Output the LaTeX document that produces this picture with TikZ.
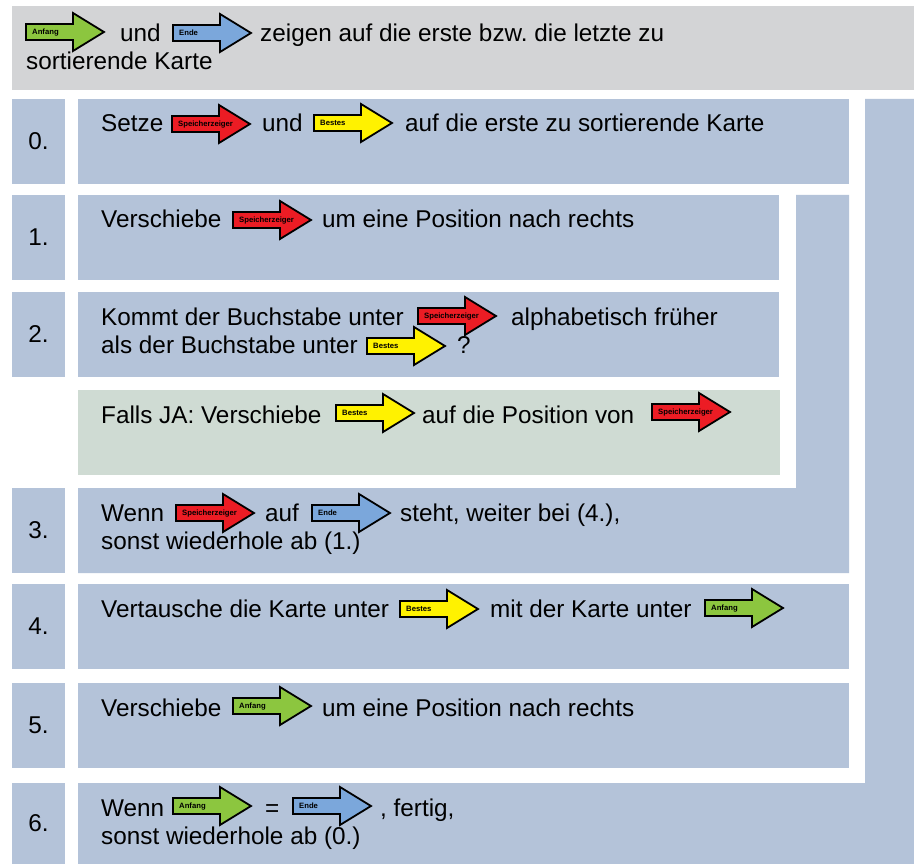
\documentclass[tikz,border=0pt]{standalone}
\usepackage{fontspec}
\setmainfont{Liberation Sans}
\frenchspacing
\definecolor{boxblue}{HTML}{B4C3D9}
\definecolor{boxgreen}{HTML}{CFDBD3}
\definecolor{headgray}{HTML}{D3D4D6}
\definecolor{pgreen}{HTML}{8CC63F}
\definecolor{pblue}{HTML}{7BA7DB}
\definecolor{pred}{HTML}{EC1C24}
\definecolor{pyellow}{HTML}{FFF200}
\begin{document}
\begin{tikzpicture}[x=1pt,y=-1pt,
  txt/.style={font=\fontsize{24.3}{28}\selectfont, inner sep=0pt, anchor=base west, text=black},
  num/.style={font=\fontsize{24.3}{28}\selectfont, inner sep=0pt, text=black},
  bluebox/.style={fill=boxblue, draw=none},
  pics/ptr/.style 2 args={code={
    \draw[line width=1.8pt, line join=miter, fill=#1]
      (0,-8) -- (47,-8) -- (47,-19) -- (78,0) -- (47,19) -- (47,8) -- (0,8) -- cycle;
    \node[anchor=mid west, inner sep=0pt, font=\fontsize{7.7}{8}\selectfont\bfseries] (-lbl) at (6,0) {#2};
  }}]
\useasboundingbox (0,0) rectangle (914,864);
\fill[white] (0,0) rectangle (914,864);

% header band
\fill[headgray] (12,6) rectangle (914,90);

% step number boxes
\foreach \t/\b in {99/184,195/280,292/377,488/573,584/669,683/768,783/864}
  \fill[boxblue] (12,\t) rectangle (65,\b);

% step text boxes
\fill[bluebox] (78,99) rectangle (849,184);
\fill[bluebox] (78,195) rectangle (779,280);
\fill[bluebox] (78,292) rectangle (779,377);
\fill[boxgreen] (78,390) rectangle (780,475);
% step 3 with the loop back to step 1
\fill[bluebox] (78,488) -- (796,488) -- (796,195) -- (849,195) -- (849,573) -- (78,573) -- cycle;
\fill[bluebox] (78,584) rectangle (849,669);
\fill[bluebox] (78,683) rectangle (849,768);
% step 6 with the loop back to step 0
\fill[bluebox] (78,783) -- (865,783) -- (865,99) -- (914,99) -- (914,864) -- (78,864) -- cycle;

% numbers
\node[num] (n0) at (38.5,141.5) {0.};
\node[num] (n1) at (38.5,237.5) {1.};
\node[num] (n2) at (38.5,334.5) {2.};
\node[num] (n3) at (38.5,530.5) {3.};
\node[num] (n4) at (38.5,626.5) {4.};
\node[num] (n5) at (38.5,725.5) {5.};
\node[num] (n6) at (38.5,823.5) {6.};

% header
\pic (hA) at (26,32) {ptr={pgreen}{Anfang}};
\node[txt] (h1) at (120,42) {und};
\pic (hE) at (173,33) {ptr={pblue}{Ende}};
\node[txt] (h2) at (260,42) {zeigen auf die erste bzw. die letzte zu};
\node[txt] (h3) at (26,70) {sortierende Karte};

% step 0
\node[txt] (s0a) at (101,132) {Setze};
\pic (s0S) at (172,124) {ptr={pred}{Speicherzeiger}};
\node[txt] (s0b) at (262,132) {und};
\pic (s0B) at (314,123) {ptr={pyellow}{Bestes}};
\node[txt] (s0c) at (405,132) {auf die erste zu sortierende Karte};

% step 1
\node[txt] (s1a) at (101,228) {Verschiebe};
\pic (s1S) at (233,220) {ptr={pred}{Speicherzeiger}};
\node[txt] (s1b) at (322,228) {um eine Position nach rechts};

% step 2
\node[txt] (s2a) at (101,325) {Kommt der Buchstabe unter};
\pic (s2S) at (418,316) {ptr={pred}{Speicherzeiger}};
\node[txt] (s2b) at (511,325) {alphabetisch früher};
\node[txt] (s2c) at (101,353) {als der Buchstabe unter};
\pic (s2B) at (367,346) {ptr={pyellow}{Bestes}};
\node[txt] (s2d) at (457,353) {?};

% branch of step 2
\node[txt] (fa) at (101,423) {Falls JA: Verschiebe};
\pic (fB) at (336,413) {ptr={pyellow}{Bestes}};
\node[txt] (fb) at (422,423) {auf die Position von};
\pic (fS) at (652,412) {ptr={pred}{Speicherzeiger}};

% step 3
\node[txt] (s3a) at (101,521) {Wenn};
\pic (s3S) at (176,513) {ptr={pred}{Speicherzeiger}};
\node[txt] (s3b) at (265,521) {auf};
\pic (s3E) at (312,513) {ptr={pblue}{Ende}};
\node[txt] (s3c) at (400,521) {steht, weiter bei (4.),};
\node[txt] (s3d) at (101,549) {sonst wiederhole ab (1.)};

% step 4
\node[txt] (s4a) at (101,617) {Vertausche die Karte unter};
\pic (s4B) at (400,609) {ptr={pyellow}{Bestes}};
\node[txt] (s4b) at (490,617) {mit der Karte unter};
\pic (s4A) at (705,608) {ptr={pgreen}{Anfang}};

% step 5
\node[txt] (s5a) at (101,716) {Verschiebe};
\pic (s5A) at (233,706) {ptr={pgreen}{Anfang}};
\node[txt] (s5b) at (322,716) {um eine Position nach rechts};

% step 6
\node[txt] (s6a) at (101,816) {Wenn};
\pic (s6A) at (173,806) {ptr={pgreen}{Anfang}};
\node[txt] (s6b) at (265,816) {=};
\pic (s6E) at (293,806) {ptr={pblue}{Ende}};
\node[txt] (s6c) at (380,816) {, fertig,};
\node[txt] (s6d) at (101,844) {sonst wiederhole ab (0.)};
\end{tikzpicture}
\end{document}
